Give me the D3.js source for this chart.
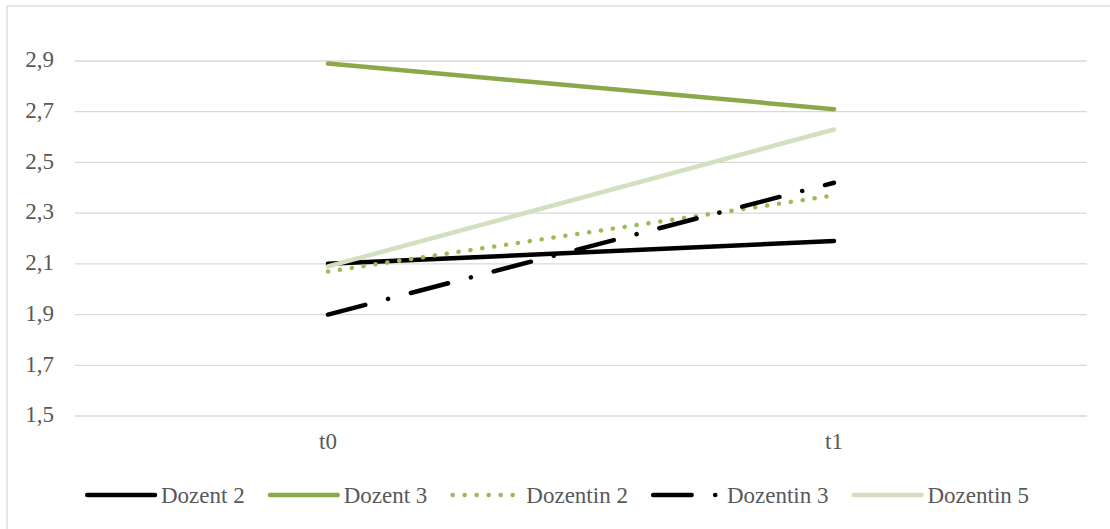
<!DOCTYPE html>
<html>
<head>
<meta charset="utf-8">
<script src="https://cdn.jsdelivr.net/npm/d3@7"></script>
<style>
  html, body { margin: 0; padding: 0; background: #fff; }
  svg { display: block; }
  svg text { fill: #595959; }
</style>
</head>
<body>
<svg id="chart" width="1110" height="529"></svg>
<script>
// Zeitpunkte und Mittelwerte je Lehrperson
const categories = ["t0", "t1"];
const seriesNames = ["Dozent 2", "Dozent 3", "Dozentin 2", "Dozentin 3", "Dozentin 5"];
const dozent2 = [2.10, 2.19];
const dozent3 = [2.89, 2.71];
const dozentin2 = [2.07, 2.37];
const dozentin3 = [1.90, 2.42];
const dozentin5 = [2.09, 2.63];
const yTicks = [1.5, 1.7, 1.9, 2.1, 2.3, 2.5, 2.7, 2.9];

const FONT = "'Times New Roman', Times, 'Liberation Serif', Tinos, 'Nimbus Roman', 'Nimbus Roman No9 L', FreeSerif, 'Noto Serif', 'DejaVu Serif', 'Noto Serif CJK SC', serif";

// Linienstile je Reihe
const styles = [
  { color: "#000000", dash: null },
  { color: "#8BA84B", dash: null },
  { color: "#9BBB59", dash: "0.1 11.9" },
  { color: "#000000", dash: "38.5 23.5 0.1 23.5" },
  { color: "#D3E0BF", dash: null }
];
const seriesValues = [dozent2, dozent3, dozentin2, dozentin3, dozentin5];

const svg = d3.select("#chart");

// Rahmen des Diagrammbereichs
svg.append("rect")
  .attr("x", 7).attr("y", 6)
  .attr("width", 1120).attr("height", 540)
  .attr("fill", "none")
  .attr("stroke", "#d9d9d9")
  .attr("stroke-width", 1.3);

const plot = { left: 75, right: 1087 };

const x = d3.scaleBand().domain(categories).range([plot.left, plot.right]);
const y = d3.scaleLinear().domain([1.5, 2.9]).range([416, 61]);
const xc = c => x(c) + x.bandwidth() / 2;

const fmt = v => d3.format(".1f")(v).replace(".", ",");

// Gitterlinien
svg.append("g")
  .selectAll("line")
  .data(yTicks)
  .join("line")
  .attr("x1", plot.left).attr("x2", plot.right)
  .attr("y1", d => y(d)).attr("y2", d => y(d))
  .attr("stroke", "#d9d9d9")
  .attr("stroke-width", 1.3);

// y-Achse (Beschriftung)
const yAxis = d3.axisLeft(y).tickValues(yTicks).tickFormat(fmt).tickSize(0).tickPadding(0);
const gy = svg.append("g").attr("transform", "translate(54,0)").call(yAxis)
  .attr("font-family", FONT).attr("font-size", 23);
gy.select(".domain").remove();
gy.selectAll("text")
  .style("font-family", FONT)
  .attr("fill", "#595959")
  .attr("dy", "0.25em");

// x-Achse (Beschriftung)
const xAxis = d3.axisBottom(x).tickSize(0).tickPadding(0);
const gx = svg.append("g").attr("transform", "translate(0,431)").call(xAxis)
  .attr("font-family", FONT).attr("font-size", 23);
gx.select(".domain").remove();
gx.selectAll("text")
  .style("font-family", FONT)
  .attr("fill", "#595959")
  .attr("dy", "0.77em");

// Linien
const line = d3.line().x((d, i) => xc(categories[i])).y(d => y(d));
seriesValues.forEach((vals, i) => {
  const st = styles[i];
  svg.append("path")
    .datum(vals)
    .attr("d", line)
    .attr("fill", "none")
    .attr("stroke", st.color)
    .attr("stroke-width", 4.5)
    .attr("stroke-linecap", "round")
    .attr("stroke-linejoin", "round")
    .attr("stroke-dasharray", st.dash);
});

// Legende
const legend = svg.append("g").attr("font-family", FONT);
let lx = 85;
const ly = 495;
seriesNames.forEach((name, i) => {
  const st = styles[i];
  const g = legend.append("g");
  g.append("line")
    .attr("x1", lx + 2.25).attr("x2", lx + 70)
    .attr("y1", ly).attr("y2", ly)
    .attr("stroke", st.color)
    .attr("stroke-width", 4.5)
    .attr("stroke-linecap", "round")
    .attr("stroke-dasharray", st.dash);
  const t = g.append("text")
    .attr("x", lx + 76)
    .attr("y", ly + 8)
    .attr("font-size", 23)
    .style("font-family", FONT)
    .attr("fill", "#595959")
    .text(name);
  lx += 76 + t.node().getComputedTextLength() + 23;
});
</script>
</body>
</html>
